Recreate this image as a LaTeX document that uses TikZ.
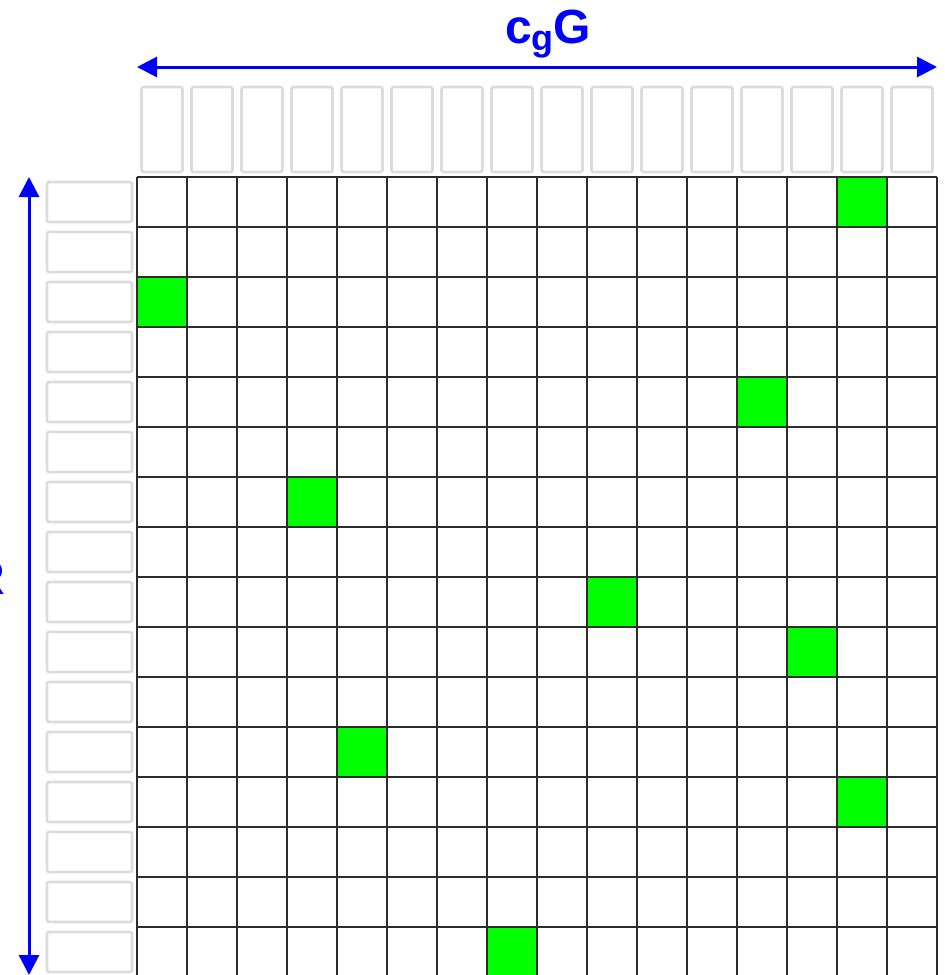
\documentclass[tikz,border=0pt]{standalone}
\usepackage{fontspec}
\setmainfont{Liberation Sans}
\usetikzlibrary{arrows.meta}
\definecolor{arrowblue}{RGB}{0,0,255}
\definecolor{cellgreen}{RGB}{0,255,0}
\definecolor{boxgrey}{RGB}{220,220,220}
\definecolor{gridgrey}{RGB}{45,45,45}
\tikzset{
  dimarrow/.style={draw=arrowblue, line width=3pt, {Triangle[length=20pt,width=20pt]}-{Triangle[length=20pt,width=20pt]}},
  dimlabel/.style={text=arrowblue, font=\bfseries\fontsize{48}{48}\selectfont, inner sep=0pt},
  slotbox/.style={draw=boxgrey, line width=2.6pt, rounded corners=2pt},
  hitcell/.style={fill=cellgreen},
  gridline/.style={draw=gridgrey, line width=1.6pt}
}
\begin{document}
\begin{tikzpicture}[x=1pt,y=-1pt]
\useasboundingbox (0,0) rectangle (945,975);
\clip (0,0) rectangle (945,975);
% top slot boxes
\foreach \c in {0,...,15}{
  \draw[slotbox] ({137+50*\c+4.5},87) rectangle ({137+50*\c+45.5},172);
}
% left slot boxes
\foreach \r in {0,...,15}{
  \draw[slotbox] (47,{177+50*\r+5}) rectangle (132,{177+50*\r+45});
}
% green cells (column, row)
\foreach \c/\r in {14/0,0/2,12/4,3/6,9/8,13/9,4/11,14/12,7/15}{
  \fill[hitcell] ({137+50*\c},{177+50*\r}) rectangle ({187+50*\c},{227+50*\r});
}
% grid
\foreach \c in {0,...,16}{
  \draw[gridline] ({137+50*\c},177) -- ({137+50*\c},980);
}
\foreach \r in {0,...,16}{
  \draw[gridline] (137,{177+50*\r}) -- (937,{177+50*\r});
}
% dimension arrows
\coordinate (hL) at (137,67);
\coordinate (hR) at (937,67);
\coordinate (vT) at (29,177);
\coordinate (vB) at (29,975);
\draw[dimarrow] (hL) -- (hR);
\draw[dimarrow] (vT) -- (vB);
\node[dimlabel, anchor=base west] (toplabel) at (505,43) {c\raisebox{-7pt}{\fontsize{36}{36}\selectfont g}G};
\node[dimlabel, anchor=base east] (leftlabel) at (5,594) {R};
\end{tikzpicture}
\end{document}
